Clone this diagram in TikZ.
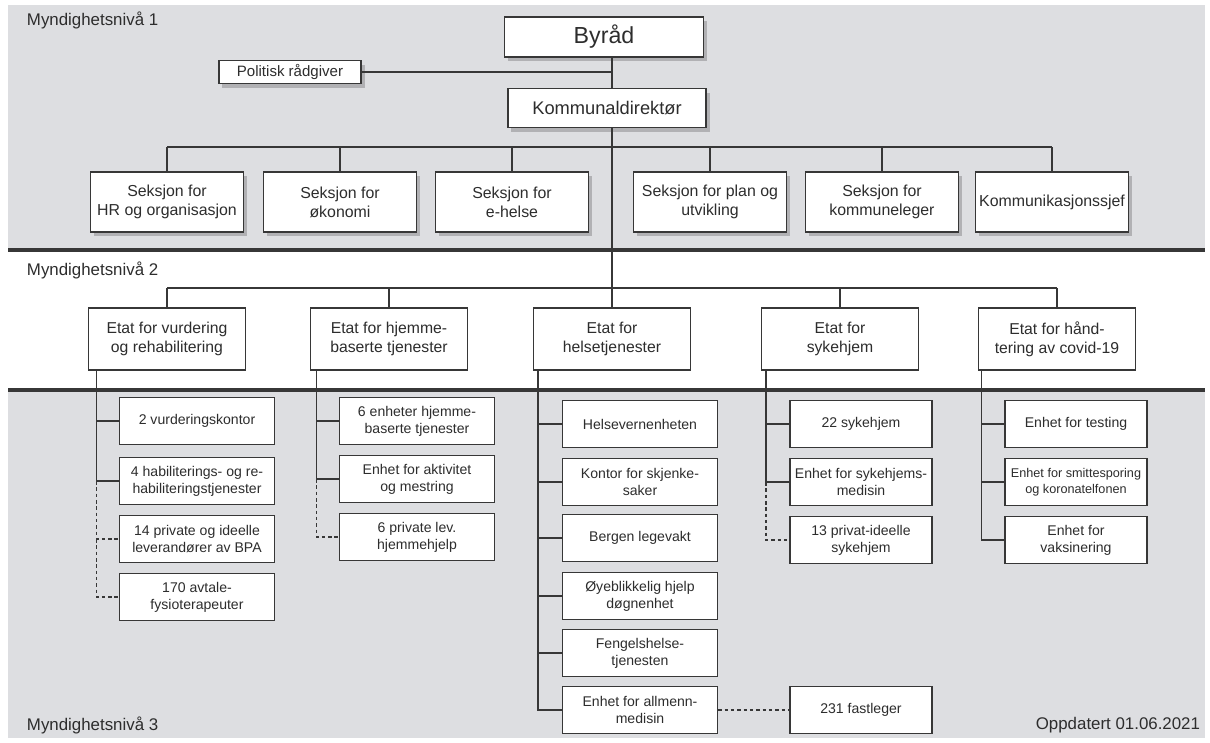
\documentclass[tikz,border=0pt]{standalone}
\usepackage{fontspec}
\setmainfont{Liberation Sans}
\usetikzlibrary{shadows}
\definecolor{bggrey}{RGB}{221,222,225}
\definecolor{linegrey}{RGB}{55,55,55}
\definecolor{txtgrey}{RGB}{45,45,45}

\begin{document}
\begin{tikzpicture}
[
x=0.025cm, y=-0.025cm,
every node/.style={text=txtgrey},
boks/.style={draw=linegrey, fill=white, line width=0.9pt, align=center, inner sep=1pt, font=\fontsize{10}{12}\selectfont},
toppboks/.style={boks, drop shadow={shadow xshift=2.5pt, shadow yshift=-3pt, opacity=0.3, fill=black!70},
            minimum width=3.83cm, minimum height=1.5cm, font=\fontsize{11.3}{13.5}\selectfont},
etat/.style={boks, minimum width=3.93cm, minimum height=1.55cm, font=\fontsize{11.2}{13.5}\selectfont},
enhet/.style={boks, minimum width=3.88cm, minimum height=1.18cm},
smal/.style={enhet, minimum width=3.55cm},
link/.style={draw=linegrey, line width=0.8pt},
privat/.style={link, dash pattern=on 2.5pt off 2pt},
nivaa/.style={anchor=west, font=\fontsize{12}{14}\selectfont},
]
\useasboundingbox (0,0) rectangle (1210,743);

%The three levels
\fill[bggrey] (8,5) rectangle (1205,250);
\fill[bggrey] (8,390) rectangle (1205,738);
\draw[linegrey, line width=2.2pt] (8,250) -- (1205,250);
\draw[linegrey, line width=2.2pt] (8,390) -- (1205,390);

\node[nivaa] (niva1) at (22,20) {Myndighetsnivå 1};
\node[nivaa] (niva2) at (22,270) {Myndighetsnivå 2};
\node[nivaa] (niva3) at (22,725) {Myndighetsnivå 3};
\node[nivaa, anchor=east] (dato) at (1205,725) {Oppdatert 01.06.2021};

%Place the nodes
\node[toppboks, minimum width=4.98cm, minimum height=1cm, font=\fontsize{16.5}{18}\selectfont] (byraad) at (604,37) {Byråd};
\node[toppboks, minimum width=3.55cm, minimum height=0.58cm, font=\fontsize{10.7}{12}\selectfont] (radgiver) at (290,72) {Politisk rådgiver};
\node[toppboks, minimum width=4.95cm, minimum height=0.98cm, font=\fontsize{13}{15}\selectfont] (kdir) at (607,108) {Kommunaldirektør};

\node[toppboks] (hr) at (167,202) {Seksjon for\\HR og organisasjon};
\node[toppboks] (oko) at (340,202) {Seksjon for\\økonomi};
\node[toppboks] (ehelse) at (512,202) {Seksjon for\\e-helse};
\node[toppboks] (plan) at (710,202) {Seksjon for plan og\\utvikling};
\node[toppboks] (kleger) at (882,202) {Seksjon for\\kommuneleger};
\node[toppboks] (ksjef) at (1052,202) {Kommunikasjonssjef};

\node[etat] (vurd) at (167,339) {Etat for vurdering\\og rehabilitering};
\node[etat] (hjem) at (389,339) {Etat for hjemme-\\baserte tjenester};
\node[etat] (helse) at (612,339) {Etat for\\helsetjenester};
\node[etat] (syk) at (840,339) {Etat for\\sykehjem};
\node[etat] (covid) at (1057,339) {Etat for hånd-\\tering av covid-19};

\node[enhet] (e11) at (197,421) {2 vurderingskontor};
\node[enhet] (e12) at (197,481) {4 habiliterings- og re-\\habiliteringstjenester};
\node[enhet] (e13) at (197,539) {14 private og ideelle\\leverandører av BPA};
\node[enhet] (e14) at (197,597) {170 avtale-\\fysioterapeuter};

\node[enhet] (e21) at (417,421) {6 enheter hjemme-\\baserte tjenester};
\node[enhet] (e22) at (417,479) {Enhet for aktivitet\\og mestring};
\node[enhet] (e23) at (417,537) {6 private lev.\\hjemmehjelp};

\node[enhet] (e31) at (640,424) {Helsevernenheten};
\node[enhet] (e32) at (640,482) {Kontor for skjenke-\\saker};
\node[enhet] (e33) at (640,538) {Bergen legevakt};
\node[enhet] (e34) at (640,596) {Øyeblikkelig hjelp\\døgnenhet};
\node[enhet] (e35) at (640,653) {Fengelshelse-\\tjenesten};
\node[enhet] (e36) at (640,710) {Enhet for allmenn-\\medisin};
\node[smal] (fast) at (861,710) {231 fastleger};

\node[smal] (e41) at (861,424) {22 sykehjem};
\node[smal] (e42) at (861,482) {Enhet for sykehjems-\\medisin};
\node[smal] (e43) at (861,540) {13 privat-ideelle\\sykehjem};

\node[smal] (e51) at (1076,424) {Enhet for testing};
\node[smal, font=\fontsize{9}{11}\selectfont] (e52) at (1076,482) {Enhet for smittesporing\\og koronatelfonen};
\node[smal] (e53) at (1076,540) {Enhet for\\vaksinering};

\coordinate (buss1) at (612,147);
\coordinate (buss2) at (612,288);
\coordinate (s1) at ([xshift=0.22cm]vurd.south west);
\coordinate (s2) at ([xshift=0.17cm]hjem.south west);
\coordinate (s3) at ([xshift=0.13cm]helse.south west);
\coordinate (s4) at ([xshift=0.13cm]syk.south west);
\coordinate (s5) at ([xshift=0.1cm]covid.south west);

%Draw the connections
\draw[link] (radgiver.east) -- (radgiver.east -| helse.north);
\draw[link] (byraad.south -| helse.north) -- (kdir.north -| helse.north);
\draw[link] (kdir.south -| helse.north) -- (helse.north);

\draw[link] (hr.north |- buss1) -- (ksjef.north |- buss1);
\foreach \n in {hr,oko,ehelse,plan,kleger,ksjef}
  \draw[link] (\n.north) -- (\n.north |- buss1);

\draw[link] (vurd.north |- buss2) -- (covid.north |- buss2);
\foreach \n in {vurd,hjem,syk,covid}
  \draw[link] (\n.north) -- (\n.north |- buss2);

\draw[link] (s1) |- (e11.west);
\draw[link] (s1) |- (e12.west);
\draw[privat] (s1 |- e12.west) |- (e13.west);
\draw[privat] (s1 |- e13.west) |- (e14.west);

\draw[link] (s2) |- (e21.west);
\draw[link] (s2) |- (e22.west);
\draw[privat] (s2 |- e22.west) |- (e23.west);

\foreach \n in {e31,e32,e33,e34,e35,e36}
  \draw[link] (s3) |- (\n.west);
\draw[privat] (e36) -- (fast);

\draw[link] (s4) |- (e41.west);
\draw[link] (s4) |- (e42.west);
\draw[privat] (s4 |- e42.west) |- (e43.west);

\foreach \n in {e51,e52,e53}
  \draw[link] (s5) |- (\n.west);
\end{tikzpicture}
\end{document}
